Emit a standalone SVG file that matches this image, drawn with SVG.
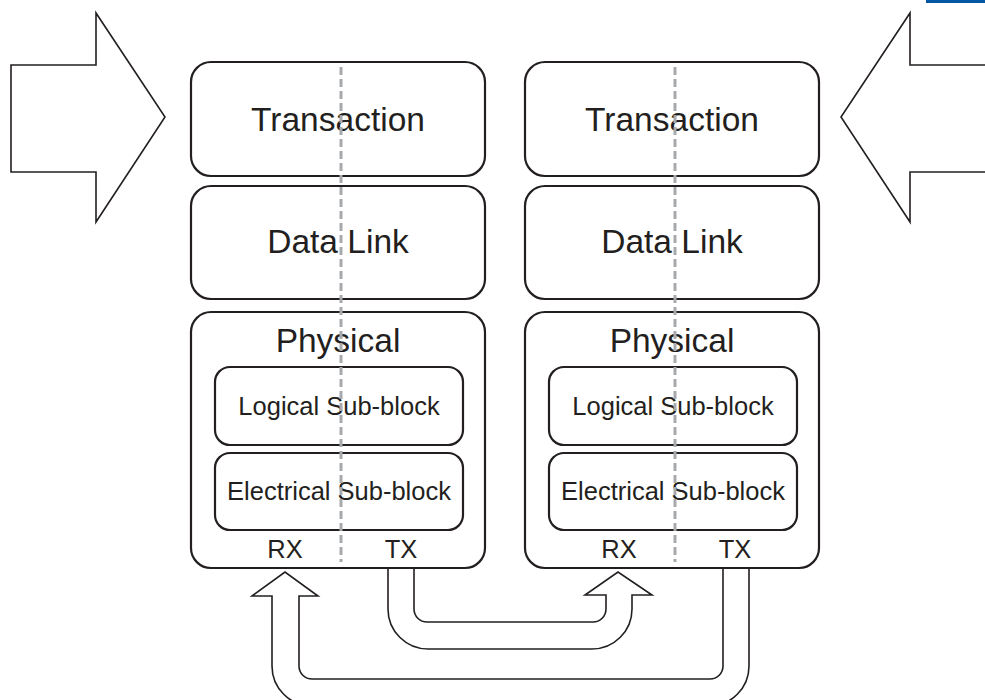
<svg xmlns="http://www.w3.org/2000/svg" width="985" height="700" viewBox="0 0 985 700">
<style>
.box{fill:#fff;stroke:#231f20;stroke-width:2.2}
.ln{fill:none;stroke:#231f20;stroke-width:1.6;stroke-linejoin:miter}
.big{font-family:"Liberation Sans",Arial,sans-serif;font-size:33.5px;fill:#231f20;text-anchor:middle}
.sm{font-family:"Liberation Sans",Arial,sans-serif;font-size:25.5px;fill:#231f20;text-anchor:middle}
.dash{stroke:#a7a9ac;stroke-width:3;stroke-dasharray:8 4;fill:none}
</style>
<rect x="926" y="0" width="59" height="3" fill="#0057a3"/>
<g id="arrow-in-left">
<path class="ln" d="M11,65 H96 V13 L165,117 L96,222 V172 H11 Z"/>
</g>
<g id="arrow-in-right">
<path class="ln" d="M990,65 H910 V13 L841,117 L910,222 V172 H990"/>
</g>
<g id="left-stack">
<g id="left-transaction">
<rect class="box" x="191" y="62" width="294" height="114" rx="20"/>
<text class="big" x="338" y="131">Transaction</text>
</g>
<g id="left-datalink">
<rect class="box" x="191" y="186" width="294" height="113" rx="20"/>
<text class="big" x="338" y="253">Data Link</text>
</g>
<g id="left-physical">
<rect class="box" x="191" y="312" width="294" height="256" rx="20"/>
<text class="big" x="338" y="352">Physical</text>
<rect class="box" x="215" y="367" width="248" height="78" rx="15"/>
<text class="sm" x="339" y="415">Logical Sub-block</text>
<rect class="box" x="215" y="453" width="248" height="77" rx="15"/>
<text class="sm" x="339" y="500">Electrical Sub-block</text>
<text class="sm" x="285" y="558">RX</text>
<text class="sm" x="401" y="558">TX</text>
</g>
<line class="dash" x1="341" y1="67" x2="341" y2="562"/>
</g>
<g id="right-stack">
<g id="right-transaction">
<rect class="box" x="525" y="62" width="294" height="114" rx="20"/>
<text class="big" x="672" y="131">Transaction</text>
</g>
<g id="right-datalink">
<rect class="box" x="525" y="186" width="294" height="113" rx="20"/>
<text class="big" x="672" y="253">Data Link</text>
</g>
<g id="right-physical">
<rect class="box" x="525" y="312" width="294" height="256" rx="20"/>
<text class="big" x="672" y="352">Physical</text>
<rect class="box" x="549" y="367" width="248" height="78" rx="15"/>
<text class="sm" x="673" y="415">Logical Sub-block</text>
<rect class="box" x="549" y="453" width="248" height="77" rx="15"/>
<text class="sm" x="673" y="500">Electrical Sub-block</text>
<text class="sm" x="619" y="558">RX</text>
<text class="sm" x="735" y="558">TX</text>
</g>
<line class="dash" x1="675" y1="67" x2="675" y2="562"/>
</g>
<g id="connectors">
<path class="ln" d="M388,568 V609 A40,40 0 0 0 428,649 H592 A40,40 0 0 0 632,609 V595 H652 L618,572 L585,595 H606 V609 A13,13 0 0 1 593,622 H427 A13,13 0 0 1 414,609 V568"/>
<path class="ln" d="M723,568 V666 A13,13 0 0 1 710,679 H312 A13,13 0 0 1 299,666 V596 H318 L285,572 L252,596 H272 V666 A40,40 0 0 0 312,706 H709 A40,40 0 0 0 749,666 V568"/>
</g>
</svg>
